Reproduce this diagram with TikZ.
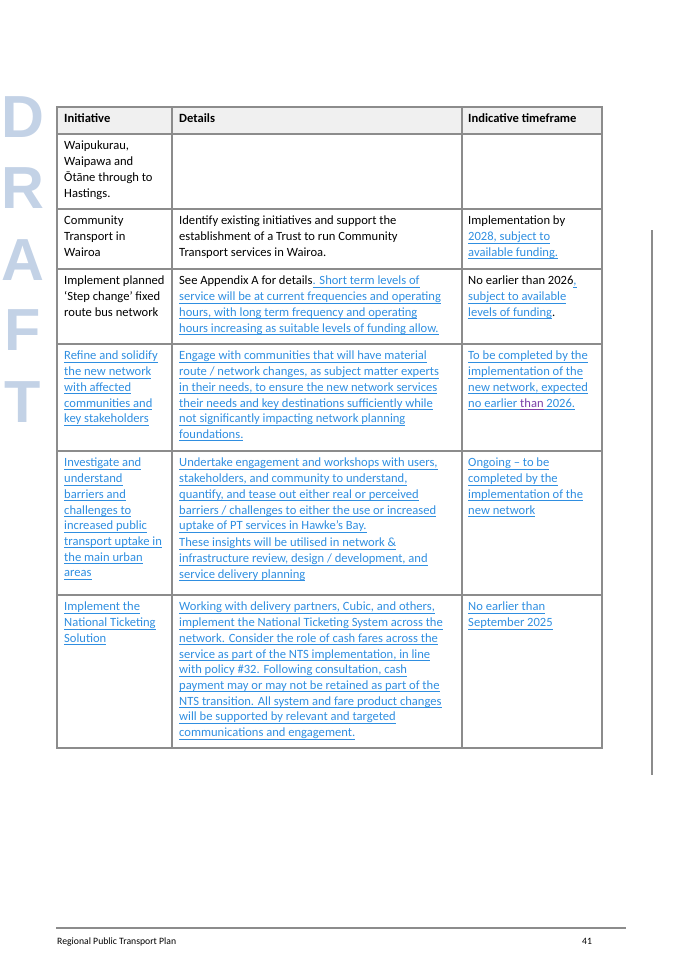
\documentclass[tikz,border=0pt]{standalone}
\usepackage{fontspec}
\setmainfont{Carlito}
\newfontfamily\draftfont{Liberation Sans}
\definecolor{lk}{HTML}{2F8EE0}
\definecolor{pur}{HTML}{7A3FA8}
\definecolor{grid}{HTML}{8C8C8C}
\definecolor{hdr}{HTML}{F0F0F0}
\definecolor{drf}{HTML}{C3D2E6}
\newcommand{\ul}[1]{\setbox0\hbox{#1}\rlap{\rule[-2.2pt]{\wd0}{0.5pt}}\box0}
\newcommand{\U}[1]{{\color{lk}\ul{#1}}}
\begin{document}
\begin{tikzpicture}[x=0.8753pt,y=-0.8753pt,
  cell/.style={anchor=north west,inner sep=0pt,align=left,font=\fontsize{11}{13.75}\selectfont},
  dl/.style={anchor=center,inner sep=0pt,font=\draftfont\bfseries\fontsize{52}{52}\selectfont,text=drf},
  ft/.style={anchor=base west,inner sep=0pt,font=\fontsize{8.5}{10}\selectfont}]
\useasboundingbox (0,0) rectangle (675,962);
% DRAFT
\node[dl] (d1) at (23,117) {D};
\node[dl] (d2) at (23,188) {R};
\node[dl] (d3) at (23,260) {A};
\node[dl] (d4) at (23,330) {F};
\node[dl] (d5) at (23,402) {T};
% header
\fill[hdr] (57,107) rectangle (602,134);
\draw[grid,line width=0.9pt] (57,107) rectangle (602,748);
\foreach \yy in {134,209,269,344,451,595} \draw[grid,line width=0.9pt] (57,\yy) -- (602,\yy);
\draw[grid,line width=0.9pt] (172,107) -- (172,748);
\draw[grid,line width=0.9pt] (462,107) -- (462,748);
% change bar
\draw[grid,line width=0.9pt] (652,230) -- (652,775);
% header texts
\node[cell] (h1) at (64,113) {\textbf{Initiative}};
\node[cell] (h2) at (179,113) {\textbf{Details}};
\node[cell] (h3) at (468,113) {\textbf{Indicative timeframe}};
% row 1
\node[cell] (a1) at (64,141) {Waipukurau,\\Waipawa and\\Ōtāne through to\\Hastings.};
% row 2
\node[cell] (a2) at (64,216) {Community\\Transport in\\Wairoa};
\node[cell] (b2) at (179,216) {Identify existing initiatives and support the\\establishment of a Trust to run Community\\Transport services in Wairoa.};
\node[cell] (c2) at (468,216) {Implementation by\\\U{2028, subject to}\\\U{available funding.}};
% row 3
\node[cell] (a3) at (64,276) {Implement planned\\‘Step change’ fixed\\route bus network};
\node[cell] (b3) at (179,276) {See Appendix A for details\U{. Short term levels of}\\\U{service will be at current frequencies and operating}\\\U{hours, with long term frequency and operating}\\\U{hours increasing as suitable levels of funding allow.}};
\node[cell] (c3) at (468,276) {No earlier than 2026\U{,}\\\U{subject to available}\\\U{levels of funding}.};
% row 4
\node[cell] (a4) at (64,351) {\U{Refine and solidify}\\\U{the new network}\\\U{with affected}\\\U{communities and}\\\U{key stakeholders}};
\node[cell] (b4) at (179,351) {\U{Engage with communities that will have material}\\\U{route / network changes, as subject matter experts}\\\U{in their needs, to ensure the new network services}\\\U{their needs and key destinations sufficiently while}\\\U{not significantly impacting network planning}\\\U{foundations.}};
\node[cell] (c4) at (468,351) {\U{To be completed by the}\\\U{implementation of the}\\\U{new network, expected}\\\U{no earlier }{\color{pur}\ul{than}}\U{ 2026.}};
% row 5
\node[cell] (a5) at (64,458) {\U{Investigate and}\\\U{understand}\\\U{barriers and}\\\U{challenges to}\\\U{increased public}\\\U{transport uptake in}\\\U{the main urban}\\\U{areas}};
\node[cell] (b5) at (179,458) {\U{Undertake engagement and workshops with users,}\\\U{stakeholders, and community to understand,}\\\U{quantify, and tease out either real or perceived}\\\U{barriers / challenges to either the use or increased}\\\U{uptake of PT services in Hawke’s Bay.}};
\node[cell] (b5b) at (179,538) {\U{These insights will be utilised in network \&}\\\U{infrastructure review, design / development, and}\\\U{service delivery planning}};
\node[cell] (c5) at (468,458) {\U{Ongoing – to be}\\\U{completed by the}\\\U{implementation of the}\\\U{new network}};
% row 6
\node[cell] (a6) at (64,602) {\U{Implement the}\\\U{National Ticketing}\\\U{Solution}};
\node[cell] (b6) at (179,602) {\U{Working with delivery partners, Cubic, and others,}\\\U{implement the National Ticketing System across the}\\\U{network. Consider the role of cash fares across the}\\\U{service as part of the NTS implementation, in line}\\\U{with policy \#32. Following consultation, cash}\\\U{payment may or may not be retained as part of the}\\\U{NTS transition. All system and fare product changes}\\\U{will be supported by relevant and targeted}\\\U{communications and engagement.}};
\node[cell] (c6) at (468,602) {\U{No earlier than}\\\U{September 2025}};
% footer
\draw[grid,line width=0.9pt] (56,928) -- (626,928);
\node[ft] (f1) at (57,944) {Regional Public Transport Plan};
\node[ft] (f2) at (582,944) {41};
\end{tikzpicture}
\end{document}
